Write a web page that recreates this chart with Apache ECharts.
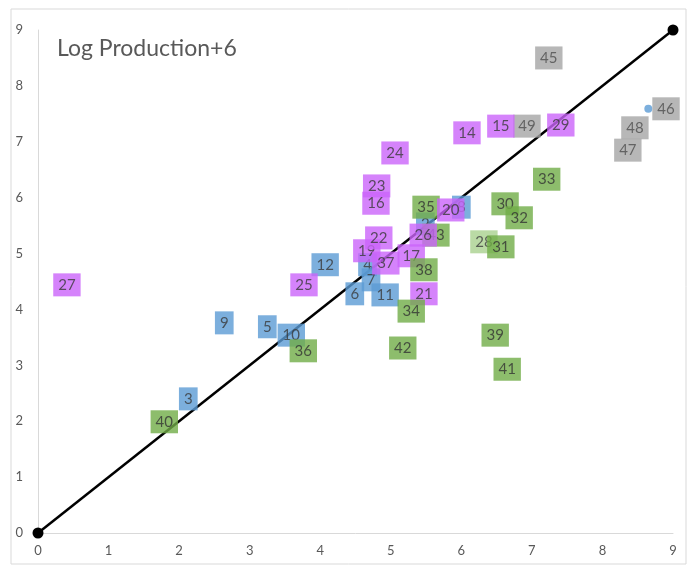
<!DOCTYPE html>
<html>
<head>
<meta charset="utf-8">
<script src="https://cdn.jsdelivr.net/npm/echarts@6/dist/echarts.min.js"></script>
<style>
  html, body { margin: 0; padding: 0; background: #fff; }
  #chart { width: 696px; height: 568px; }
</style>
</head>
<body>
<div id="chart"></div>
<script>
// Axis ticks (both axes run 0..9)
const xTicks = [0, 1, 2, 3, 4, 5, 6, 7, 8, 9];
const yTicks = [0, 1, 2, 3, 4, 5, 6, 7, 8, 9];

// Reference line y = x
const diagonal = [[0, 0], [9, 9]];

// Labelled points: [label, x, y], grouped by label colour
const grayPts = [
  ['45', 7.24, 8.50],
  ['49', 6.93, 7.28],
  ['48', 8.46, 7.25],
  ['47', 8.36, 6.85],
  ['46', 8.65, 7.59]
];
const bluePts = [
  ['2', 5.49, 5.53],
  ['3', 2.13, 2.40],
  ['4', 4.67, 4.80],
  ['5', 3.25, 3.69],
  ['7', 4.72, 4.53],
  ['6', 4.49, 4.28],
  ['8', 6.00, 5.83],
  ['9', 2.64, 3.76],
  ['10', 3.59, 3.54],
  ['11', 4.92, 4.26],
  ['12', 4.07, 4.80]
];
const lightGreenPts = [
  ['28', 6.32, 5.21]
];
const greenPts = [
  ['30', 6.62, 5.89],
  ['31', 6.56, 5.12],
  ['32', 6.82, 5.64],
  ['33', 7.21, 6.33],
  ['35', 5.50, 5.83],
  ['36', 3.76, 3.26],
  ['39', 6.48, 3.54],
  ['40', 1.79, 1.99],
  ['41', 6.65, 2.93],
  ['42', 5.17, 3.31],
  ['43', 5.64, 5.33]
];
const purplePts = [
  ['14', 6.08, 7.16],
  ['15', 6.56, 7.28],
  ['23', 4.80, 6.21],
  ['16', 4.79, 5.90],
  ['24', 5.06, 6.80],
  ['25', 3.77, 4.44],
  ['27', 0.41, 4.44],
  ['29', 7.41, 7.30],
  ['19', 4.66, 5.05],
  ['22', 4.83, 5.28],
  ['17', 5.29, 4.96],
  ['37', 4.93, 4.83],
  ['21', 5.47, 4.28],
  ['20', 5.85, 5.78],
  ['26', 5.46, 5.33]
];
// green labels stacked above their purple neighbours
const greenFrontPts = [
  ['38', 5.47, 4.71],
  ['34', 5.29, 3.97]
];

const groups = [
  { pts: grayPts, color: '#a5a5a5', text: '#4d4d4d' },
  { pts: bluePts, color: '#5b9bd5', text: '#3a3a3a' },
  { pts: lightGreenPts, color: '#a9d18e', text: '#404040' },
  { pts: greenPts, color: '#70ad47', text: '#333333' },
  { pts: purplePts, color: '#ca64fa', text: '#3a3a3a' },
  { pts: greenFrontPts, color: '#70ad47', text: '#333333' }
];

const pointData = [];
groups.forEach(g => {
  g.pts.forEach(([name, x, y]) => {
    const moved = name === '46';
    pointData.push({
      name: name,
      value: [x, y],
      symbolSize: moved ? 8 : 0,
      label: {
        show: true,
        formatter: name,
        backgroundColor: g.color,
        color: g.text,
        position: moved ? 'right' : 'inside',
        distance: 0,
        offset: moved ? [0, -4] : [0, 0]
      }
    });
  });
});

const chart = echarts.init(document.getElementById('chart'), null, { renderer: 'canvas' });

const axisCommon = {
  type: 'value',
  min: 0,
  max: 9,
  interval: 1,
  axisLine: { show: true, lineStyle: { color: '#d9d9d9', width: 1 } },
  axisTick: { show: false },
  splitLine: { show: false },
  axisLabel: {
    color: '#595959',
    fontFamily: 'Lato, sans-serif',
    fontSize: 13,
    formatter: v => String(v)
  }
};

chart.setOption({
  animation: false,
  backgroundColor: '#ffffff',
  grid: { left: 38, right: 23, top: 30, bottom: 35 },
  xAxis: Object.assign({}, axisCommon, {
    axisLabel: Object.assign({}, axisCommon.axisLabel, { margin: 11 })
  }),
  yAxis: Object.assign({}, axisCommon, {
    axisLabel: Object.assign({}, axisCommon.axisLabel, { margin: 15 })
  }),
  graphic: [
    {
      type: 'rect',
      shape: { x: 11, y: 9, width: 675, height: 555 },
      style: { fill: 'none', stroke: '#d9d9d9', lineWidth: 1 },
      silent: true,
      z: -10
    },
    {
      type: 'text',
      left: 57,
      top: 37,
      style: {
        text: 'Log Production+6',
        fill: '#595959',
        font: '23px Lato, sans-serif'
      },
      silent: true
    }
  ],
  series: [
    {
      type: 'line',
      data: diagonal,
      clip: false,
      silent: true,
      symbol: 'circle',
      symbolSize: 11,
      showAllSymbol: true,
      itemStyle: { color: '#000000' },
      lineStyle: { color: '#000000', width: 2.5 },
      z: 1
    },
    {
      type: 'scatter',
      data: pointData,
      clip: false,
      silent: true,
      symbol: 'circle',
      itemStyle: { color: '#5b9bd5' },
      label: {
        fontFamily: 'Lato, sans-serif',
        fontSize: 15,
        lineHeight: 16,
        padding: [4, 5, 3, 5]
      },
      labelLayout: { hideOverlap: false },
      z: 3
    }
  ]
});
</script>
</body>
</html>
